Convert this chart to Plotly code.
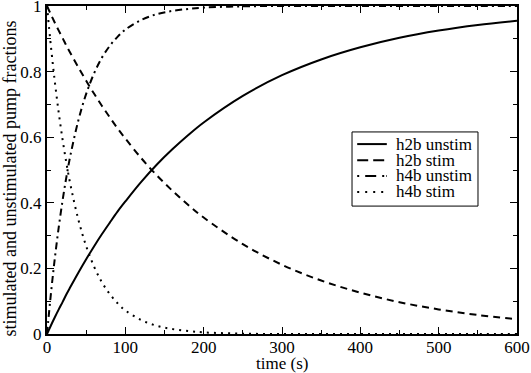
import plotly.graph_objects as go

# time points (s)
t = [0, 5, 10, 15, 20, 25, 30, 40, 50, 60, 70, 80, 90, 100, 120, 140, 160, 180,
     200, 250, 300, 350, 400, 450, 500, 550, 600]

# pump fractions
h2b_stim = [1.0, 0.974, 0.949, 0.925, 0.902, 0.878, 0.856, 0.813, 0.772, 0.733,
            0.696, 0.661, 0.627, 0.596, 0.537, 0.484, 0.437, 0.394,
            0.355, 0.274, 0.211, 0.163, 0.126, 0.097, 0.075, 0.058, 0.045]
h2b_unstim = [round(1 - v, 3) for v in h2b_stim]
h4b_stim = [1.0, 0.877, 0.769, 0.674, 0.591, 0.518, 0.454, 0.349, 0.268, 0.206,
            0.158, 0.122, 0.094, 0.072, 0.043, 0.025, 0.015, 0.009,
            0.005, 0.001, 0.0, 0.0, 0.0, 0.0, 0.0, 0.0, 0.0]
h4b_unstim = [round(1 - v, 3) for v in h4b_stim]

names = ["h2b unstim", "h2b stim", "h4b unstim", "h4b stim"]
values = [h2b_unstim, h2b_stim, h4b_unstim, h4b_stim]
dashes = ["solid", "7px,5px", "7px,4px,2px,4px", "2px,5px"]
legend_dashes = ["solid", "11px,5px", "2px,6px,11px,6px,2px", "2px,6px"]

FONT = "Liberation Serif, Times New Roman, serif"

fig = go.Figure()
for name, ys, dash in zip(names, values, dashes):
    fig.add_trace(go.Scatter(x=t, y=ys, name=name, mode="lines", line_shape="spline",
                             line=dict(color="black", width=2, dash=dash)))

axis_common = dict(showline=True, linecolor="black", linewidth=2, mirror="ticks",
                   ticks="inside", ticklen=7, tickcolor="black", tickwidth=1,
                   showgrid=False, zeroline=False, automargin=False,
                   ticklabeloverflow="allow",
                   minor=dict(ticks="inside", ticklen=4, tickcolor="black", showgrid=False),
                   tickfont=dict(family=FONT, size=17, color="black"))

fig.update_xaxes(range=[0, 600], dtick=100, minor_dtick=50, ticklabelstandoff=-3, **axis_common)
fig.update_yaxes(range=[0, 1], dtick=0.2, minor_dtick=0.1, tickformat="~g", **axis_common)

# axis titles
fig.add_annotation(text="time (s)", xref="paper", yref="paper", x=0.5, y=-0.089,
                   xanchor="center", yanchor="middle", showarrow=False,
                   font=dict(family=FONT, size=17, color="black"))
fig.add_annotation(text="stimulated and unstimulated pump fractions", xref="paper", yref="paper",
                   x=-0.079, y=0.474, xanchor="center", yanchor="middle", textangle=-90,
                   showarrow=False, font=dict(family=FONT, size=18, color="black"))

# legend box drawn by hand (Grace-style, tight rows)
fig.add_shape(type="rect", xref="paper", yref="paper", x0=0.649, x1=0.917, y0=0.390, y1=0.616,
              line=dict(color="black", width=1), fillcolor="white", layer="above")
rows = [0.579, 0.530, 0.482, 0.433]
for name, dash, ry in zip(names, legend_dashes, rows):
    fig.add_shape(type="line", xref="paper", yref="paper", x0=0.660, x1=0.723, y0=ry, y1=ry,
                  line=dict(color="black", width=2, dash=dash), layer="above")
    fig.add_annotation(text=name, xref="paper", yref="paper", x=0.738, y=ry,
                       xanchor="left", yanchor="middle", showarrow=False,
                       font=dict(family=FONT, size=17, color="black"))

fig.update_layout(width=531, height=373, margin=dict(l=47, r=14, t=6, b=39),
                  plot_bgcolor="white", paper_bgcolor="white", showlegend=False,
                  font=dict(family=FONT, color="black"))

fig.write_html("out.html", config={"displayModeBar": False},
               post_script="document.body.style.margin='0px';")
